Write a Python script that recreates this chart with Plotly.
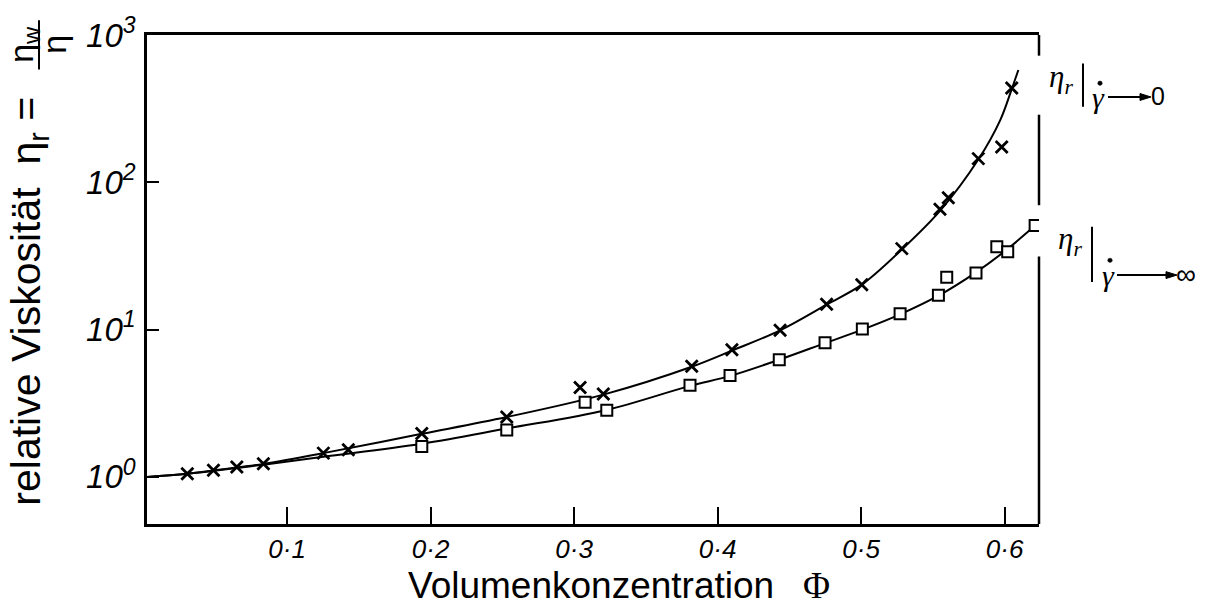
import plotly.graph_objects as go

# ---- data ----
phi_cross = [0.0305, 0.0487, 0.065, 0.0835, 0.1253, 0.1427, 0.1939, 0.2531, 0.3042, 0.3204,
             0.382, 0.41, 0.4436, 0.476, 0.5005, 0.5284, 0.555, 0.5608, 0.5817, 0.598, 0.605]
eta_cross = [1.05, 1.108, 1.166, 1.227, 1.45, 1.53, 1.974, 2.55, 4.04, 3.65,
             5.64, 7.29, 9.9, 14.9, 20.2, 35.5, 65.7, 78.6, 145, 174, 437]

phi_square = [0.1939, 0.2531, 0.3077, 0.3228, 0.3808, 0.4087, 0.443, 0.4749, 0.5009, 0.5272,
              0.5539, 0.5597, 0.5801, 0.5946, 0.6022, 0.6213]
eta_square = [1.61, 2.08, 3.21, 2.84, 4.19, 4.89, 6.25, 8.15, 10.1, 12.8,
              17.1, 22.7, 24.2, 36.5, 33.8, 50.9]

# fitted curves
phi_fit0 = [0.0024, 0.0305, 0.065, 0.0835, 0.1253, 0.1939, 0.2531, 0.3204, 0.382, 0.41,
            0.4436, 0.476, 0.5005, 0.5284, 0.555, 0.5817, 0.597, 0.605, 0.6096]
eta_fit0 = [1.0, 1.05, 1.16, 1.225, 1.45, 1.96, 2.55, 3.62, 5.6, 7.2,
            9.9, 14.8, 20.2, 35, 64, 143, 265, 430, 580]

phi_fitinf = [0.0024, 0.0305, 0.065, 0.0835, 0.1253, 0.1939, 0.2531, 0.3228, 0.3808, 0.4087,
              0.443, 0.4749, 0.5009, 0.5272, 0.5539, 0.5801, 0.6, 0.6213]
eta_fitinf = [1.0, 1.05, 1.15, 1.21, 1.37, 1.68, 2.13, 2.85, 4.15, 4.85,
              6.25, 8.1, 10.0, 12.7, 17.0, 24.5, 34, 50.9]

x_tickvals = [0.1, 0.2, 0.3, 0.4, 0.5, 0.6]
x_ticktext = ["0·1", "0·2", "0·3", "0·4", "0·5", "0·6"]
y_tickvals = [1, 10, 100, 1000]
y_ticktext = ["10<sup>0</sup>", "10<sup>1</sup>", "10<sup>2</sup>", "10<sup>3</sup>"]

# ---- layout geometry (pixels) ----
W, H = 1207, 609
L, R, T, B = 147, 168, 27, 85
PW, PH = W - L - R, H - T - B


def px(xp):
    return (xp - L) / PW


def py(yp):
    return (H - B - yp) / PH


fig = go.Figure()
fig.add_trace(go.Scatter(x=phi_fit0, y=eta_fit0, mode="lines",
                         line=dict(color="black", width=2, shape="spline"), showlegend=False))
fig.add_trace(go.Scatter(x=phi_fitinf, y=eta_fitinf, mode="lines",
                         line=dict(color="black", width=2, shape="spline"), showlegend=False))
fig.add_trace(go.Scatter(x=phi_cross, y=eta_cross, mode="markers",
                         marker=dict(symbol="x-thin", size=12, color="black",
                                     line=dict(width=2.8, color="black")), showlegend=False))
fig.add_trace(go.Scatter(x=phi_square, y=eta_square, mode="markers",
                         marker=dict(symbol="square", size=11, color="white",
                                     line=dict(width=2, color="black")), showlegend=False))

tick_font_x = dict(family="Liberation Sans, Arial, sans-serif", size=26, color="black", style="italic")
tick_font_y = dict(family="Liberation Sans, Arial, sans-serif", size=33, color="black", style="italic")

fig.update_xaxes(range=[0.0024, 0.624], showline=True, linecolor="black", linewidth=2.5,
                 mirror=True, ticks="inside", ticklen=17, tickwidth=2, tickcolor="black",
                 tickvals=x_tickvals, ticktext=x_ticktext, tickfont=tick_font_x,
                 showgrid=False, zeroline=False, ticklabelstandoff=0)
fig.update_yaxes(type="log", range=[-0.32, 3.001], showline=True, linecolor="black", linewidth=2.5,
                 mirror=False, ticks="inside", ticklen=12, tickwidth=2, tickcolor="black",
                 tickvals=y_tickvals, ticktext=y_ticktext, tickfont=tick_font_y,
                 showgrid=False, zeroline=False, ticklabelstandoff=2)

sans = "Liberation Sans, Arial, sans-serif"
serif = "Liberation Serif, Times New Roman, serif"

shapes = []


def seg(x0, y0, x1, y1, w=2.5):
    shapes.append(dict(type="line", xref="paper", yref="paper", x0=px(x0), x1=px(x1),
                       y0=py(y0), y1=py(y1), line=dict(color="black", width=w)))


def arrow(x0, x1, y):
    seg(x0, y, x1 - 8, y, 2)
    path = "M %f %f L %f %f L %f %f Z" % (px(x1), py(y), px(x1 - 11), py(y - 3.5), px(x1 - 11), py(y + 3.5))
    shapes.append(dict(type="path", xref="paper", yref="paper", path=path,
                       fillcolor="black", line=dict(color="black", width=1)))


def dot(x, y, r=2.2):
    shapes.append(dict(type="circle", xref="paper", yref="paper",
                       x0=px(x - r), x1=px(x + r), y0=py(y - r), y1=py(y + r),
                       fillcolor="black", line=dict(color="black", width=0.5)))


# right frame segments with gaps (near labels)
for y0, y1 in [(27, 48), (108, 200), (252, 524)]:
    seg(1039, y0, 1039, y1)
# vertical bars of the labels
seg(1083, 56, 1083, 100, 2)
seg(1092, 222, 1092, 278, 2)
# fraction bar in y-title
seg(39, 12, 39, 62, 2)
# arrows
arrow(1108, 1151, 90)
arrow(1117, 1177, 271)
# dots over gamma
dot(1100, 76)
dot(1110, 256)

ann = []


def text(t, x, y, size, family=sans, angle=0, style="normal"):
    ann.append(dict(text=t, textangle=angle, xref="paper", yref="paper", x=px(x), y=py(y),
                    showarrow=False, xanchor="center", yanchor="middle", borderpad=0,
                    font=dict(family=family, size=size, color="black", style=style)))


text("relative Viskosität  η<sub>r</sub> =", 29, 298, 41, angle=-90)
text("η<sub>w</sub>", 24, 36, 34, angle=-90)
text("η", 54, 37, 34, angle=-90)
text("Volumenkonzentration", 591, 586, 37)
text("Φ", 816, 586, 37, family=serif)

# right-hand labels
text("η<sub>r</sub>", 1061, 72, 31, family=serif, style="italic")
text("γ", 1098, 91, 30, family=serif, style="italic")
text("0", 1158, 89, 25)

text("η<sub>r</sub>", 1070, 236, 31, family=serif, style="italic")
text("γ", 1108, 271, 30, family=serif, style="italic")
text("∞", 1186, 270, 28)

fig.update_layout(width=W, height=H, autosize=False,
                  margin=dict(l=L, r=R, t=T, b=B, pad=0),
                  paper_bgcolor="white", plot_bgcolor="white",
                  shapes=shapes, annotations=ann, showlegend=False)

fig.write_html("out.html")
